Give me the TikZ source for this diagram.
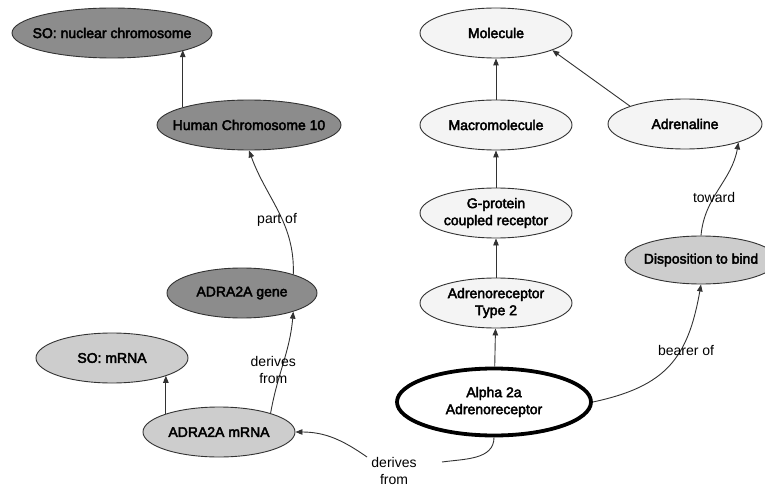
\documentclass[tikz,border=0pt]{standalone}
\usepackage{fontspec}
\setmainfont{Liberation Sans}
\newfontfamily\termfont[FakeBold=3]{Liberation Sans}
\usetikzlibrary{arrows.meta,shapes.geometric}
\definecolor{ontdark}{RGB}{140,140,140}
\definecolor{ontmid}{RGB}{205,205,205}
\definecolor{ontpale}{RGB}{244,244,244}
\definecolor{ontline}{RGB}{50,50,50}
\tikzset{
  term/.style={ellipse, draw=ontline, line width=0.9pt, inner xsep=-60pt, inner ysep=-30pt,
               align=center, minimum width=152pt, minimum height=50pt,
               font=\termfont\fontsize{14}{17}\selectfont},
  gterm/.style={term, fill=ontdark},
  mterm/.style={term, fill=ontmid},
  pterm/.style={term, fill=ontpale},
  focus/.style={term, fill=white, draw=black, line width=3.8pt,
               minimum width=194pt, minimum height=67pt},
  rel/.style={-{Triangle[length=7pt,width=5.5pt]}, line width=0.9pt, draw=ontline},
  rlabel/.style={font=\fontsize{14}{17}\selectfont, align=center, inner sep=1pt},
}

\begin{document}
\begin{tikzpicture}[x=1pt,y=1pt]
  \useasboundingbox (0,0) rectangle (765,-489);
  % gene / chromosome side
  \node[gterm, minimum width=200pt] (nuc) at (112,-33) {SO: nuclear chromosome};
  \node[gterm, minimum width=184pt] (hc10) at (249,-125) {Human Chromosome 10};
  \node[gterm, minimum width=150pt] (gene) at (242,-293) {ADRA2A gene};
  \node[mterm] (somrna) at (112,-358) {SO: mRNA};
  \node[mterm] (mrna) at (219,-432) {ADRA2A mRNA};
  % protein side
  \node[pterm] (mol) at (496,-33) {Molecule};
  \node[pterm] (macro) at (496,-125) {Macromolecule};
  \node[pterm] (gpcr) at (496,-213) {G-protein\\coupled receptor};
  \node[pterm] (type2) at (496,-303) {Adrenoreceptor\\Type 2};
  \node[focus] (alpha) at (494,-402) {Alpha 2a\\Adrenoreceptor};
  \node[pterm, minimum width=154pt] (adr) at (685,-124) {Adrenaline};
  \node[mterm, minimum height=48pt] (dispo) at (701,-260) {Disposition to bind};
  \node[rlabel] (dfrom) at (394,-471) {derives\\from};
  \coordinate (dfE) at (442,-462);
  \coordinate (dfW) at (367,-457);

  % is-a links
  \draw[rel] (hc10.165) -- (hc10.165 |- nuc.-13.5);
  \draw[rel] (mrna.161) -- (mrna.161 |- somrna.-18);
  \draw[rel] (macro) -- (mol);
  \draw[rel] (gpcr) -- (macro);
  \draw[rel] (type2) -- (gpcr);
  \draw[rel] (alpha) -- (type2);
  \draw[rel] (adr.162) -- (mol.-17);

  % relations
  \draw[rel] (gene.20) to[out=88,in=-70]
    node[rlabel, pos=0.45, xshift=-4pt, yshift=-3pt] (lpart) {part of} (hc10.south);
  \draw[rel] (mrna.20) to[out=80,in=-95]
    node[rlabel, pos=0.5, xshift=-10pt, yshift=-7pt] (lderv) {derives\\from} (gene.-20);
  \draw[rel] (alpha.east) to[out=12,in=-100,looseness=1.2]
    node[rlabel, pos=0.56, xshift=11pt, yshift=8pt] (lbear) {bearer of} (dispo.south);
  \draw[rel] (dispo.north) to[out=85,in=-100]
    node[rlabel, pos=0.45, xshift=-2pt, yshift=-5pt] (ltow) {toward} (adr.-19);
  \draw[rel] (alpha.south) to[out=-90,in=8] (dfE) (dfW) to[out=145,in=0] (mrna.east);
\end{tikzpicture}
\end{document}
